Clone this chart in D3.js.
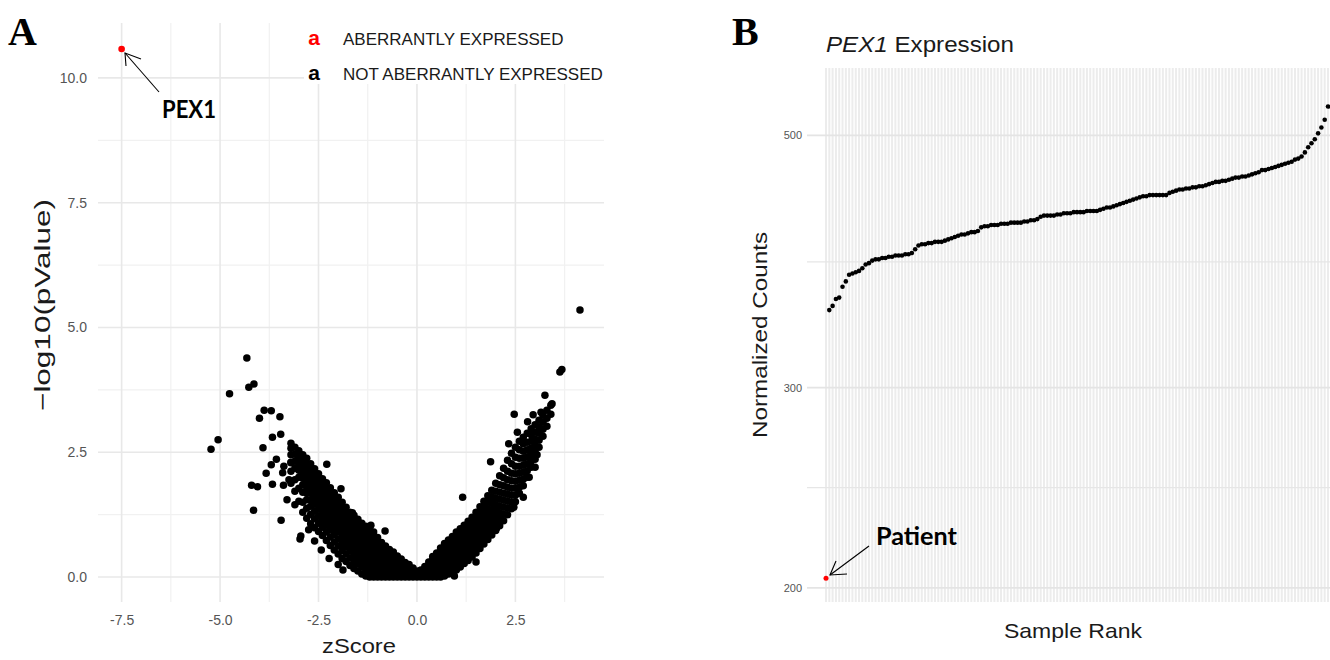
<!DOCTYPE html>
<head>
    <meta charset="utf-8">
    <title>PEX1 aberrant expression</title>
    <style>
        body { margin: 0; background: #fff; }
        svg { display: block; font-family: "Liberation Sans", Arial, sans-serif; }
        .tick text { fill: #555; }
        .note { font-family: Lato, "Open Sans", sans-serif; font-weight: bold; }
    </style>
    <script src="https://d3js.org/d3.v7.min.js"></script>
</head>
<body>
<script>
    // ---- panel A : zScore vs -log10(pValue) ----
    var zTicks = [-7.5, -5.0, -2.5, 0.0, 2.5];
    var zMinor = [-6.25, -3.75, -1.25, 1.25, 3.75];
    var pTicks = [0, 2.5, 5, 7.5, 10];
    var pMinor = [1.25, 3.75, 6.25, 8.75];
    var legendLabels = ["ABERRANTLY EXPRESSED", "NOT ABERRANTLY EXPRESSED"];
    var pex1 = [-7.5, 10.58];

    // dense band, read column by column: [zScore, [-log10 p ...]]
    var leftArm = [
        [-3.2, [1.88, 2.12, 2.3, 2.45, 2.58, 2.68]],
        [-3.1, [1.72, 1.95, 2.18, 2.32, 2.46, 2.6]],
        [-3.0, [1.52, 1.78, 2.0, 2.14, 2.27, 2.4, 2.53]],
        [-2.9, [1.3, 1.5, 1.7, 1.85, 1.98, 2.1, 2.22, 2.35, 2.45]],
        [-2.8, [1.18, 1.38, 1.55, 1.68, 1.8, 1.93, 2.05, 2.17, 2.28, 2.38]],
        [-2.7, [1.07, 1.26, 1.42, 1.55, 1.68, 1.8, 1.92, 2.03, 2.15, 2.27]],
        [-2.6, [0.99, 1.17, 1.32, 1.46, 1.58, 1.7, 1.82, 1.94, 2.06, 2.17]],
        [-2.5, [0.91, 1.08, 1.22, 1.36, 1.48, 1.6, 1.72, 1.84, 1.96, 2.07]],
        [-2.4, [0.83, 1.0, 1.13, 1.26, 1.39, 1.51, 1.63, 1.75, 1.87, 1.97]],
        [-2.3, [0.73, 0.9, 1.04, 1.17, 1.3, 1.42, 1.54, 1.66, 1.78, 1.89]],
        [-2.2, [0.63, 0.8, 0.95, 1.08, 1.2, 1.33, 1.45, 1.57, 1.68, 1.79]],
        [-2.1, [0.54, 0.7, 0.85, 0.98, 1.11, 1.23, 1.35, 1.47, 1.59, 1.69]],
        [-2.0, [0.46, 0.62, 0.76, 0.9, 1.02, 1.14, 1.26, 1.38, 1.5, 1.6]],
        [-1.9, [0.37, 0.53, 0.67, 0.8, 0.93, 1.05, 1.17, 1.29, 1.4, 1.5]],
        [-1.8, [0.31, 0.46, 0.6, 0.73, 0.85, 0.97, 1.08, 1.19, 1.3, 1.4]],
        [-1.7, [0.23, 0.38, 0.52, 0.65, 0.77, 0.89, 1.0, 1.1, 1.2, 1.3]],
        [-1.6, [0.17, 0.31, 0.45, 0.58, 0.7, 0.81, 0.92, 1.03, 1.14, 1.24]],
        [-1.5, [0.12, 0.26, 0.39, 0.51, 0.63, 0.74, 0.85, 0.96, 1.06, 1.16]],
        [-1.4, [0.06, 0.2, 0.33, 0.45, 0.56, 0.67, 0.78, 0.88, 0.98, 1.08]],
        [-1.3, [0.02, 0.15, 0.27, 0.39, 0.5, 0.61, 0.71, 0.81, 0.92, 1.02]],
        [-1.2, [0, 0.12, 0.24, 0.35, 0.46, 0.56, 0.66, 0.76, 0.86, 0.96]],
        [-1.1, [0, 0.11, 0.22, 0.33, 0.43, 0.53, 0.62, 0.72, 0.81, 0.9]],
        [-1.0, [0, 0.09, 0.21, 0.3, 0.41, 0.5, 0.61, 0.7, 0.79]],
        [-0.9, [0, 0.11, 0.2, 0.31, 0.4, 0.5, 0.6, 0.69]],
        [-0.8, [0, 0.1, 0.19, 0.29, 0.38, 0.47, 0.55, 0.62]],
        [-0.7, [0, 0.09, 0.18, 0.27, 0.36, 0.45, 0.55]],
        [-0.6, [0, 0.08, 0.17, 0.26, 0.34, 0.42, 0.5]],
        [-0.5, [0, 0.08, 0.16, 0.25, 0.33, 0.42]],
        [-0.4, [0, 0.07, 0.15, 0.22, 0.29, 0.36]],
        [-0.3, [0, 0.07, 0.14, 0.21, 0.29]],
        [-0.2, [0, 0.06, 0.13, 0.19, 0.25]],
        [-0.1, [0, 0.06, 0.12, 0.18]],
        [0.0, [0, 0.06, 0.12]]
    ];
    var rightArm = [
        [0.1, [0, 0.07, 0.14]],
        [0.2, [0, 0.07, 0.14, 0.21]],
        [0.3, [0, 0.08, 0.16, 0.23, 0.3]],
        [0.4, [0, 0.09, 0.18, 0.27, 0.35, 0.41]],
        [0.5, [0, 0.09, 0.19, 0.28, 0.38, 0.48]],
        [0.6, [0, 0.1, 0.2, 0.3, 0.4, 0.49, 0.58]],
        [0.7, [0.02, 0.12, 0.22, 0.32, 0.42, 0.52, 0.61, 0.67]],
        [0.8, [0.06, 0.16, 0.26, 0.36, 0.46, 0.56, 0.65, 0.74]],
        [0.9, [0.1, 0.2, 0.31, 0.41, 0.51, 0.61, 0.71, 0.81]],
        [1.0, [0.14, 0.24, 0.35, 0.45, 0.56, 0.66, 0.78, 0.9]],
        [1.1, [0.2, 0.31, 0.42, 0.53, 0.64, 0.75, 0.86, 0.97]],
        [1.2, [0.27, 0.38, 0.49, 0.6, 0.71, 0.82, 0.93, 1.04]],
        [1.3, [0.33, 0.45, 0.56, 0.67, 0.78, 0.9, 1.01, 1.12]],
        [1.4, [0.4, 0.52, 0.63, 0.75, 0.86, 0.98, 1.09, 1.2]],
        [1.5, [0.48, 0.6, 0.72, 0.84, 0.96, 1.07, 1.18, 1.3]],
        [1.6, [0.57, 0.69, 0.81, 0.93, 1.05, 1.17, 1.29, 1.41]],
        [1.7, [0.66, 0.78, 0.9, 1.02, 1.15, 1.27, 1.4, 1.52]],
        [1.8, [0.75, 0.87, 1.0, 1.12, 1.25, 1.37, 1.5, 1.63]],
        [1.9, [0.84, 0.96, 1.09, 1.22, 1.35, 1.48, 1.61, 1.74]],
        [2.0, [0.93, 1.06, 1.19, 1.32, 1.45, 1.58, 1.72, 1.88]],
        [2.1, [1.03, 1.16, 1.29, 1.42, 1.56, 1.7, 1.85, 2.03]],
        [2.2, [1.13, 1.26, 1.4, 1.54, 1.68, 1.83, 1.99, 2.18]],
        [2.3, [1.25, 1.38, 1.52, 1.66, 1.8, 1.95, 2.12, 2.34]],
        [2.4, [1.37, 1.5, 1.64, 1.78, 1.93, 2.08, 2.27, 2.48]],
        [2.5, [1.51, 1.64, 1.78, 1.92, 2.07, 2.22, 2.4, 2.6]],
        [2.6, [1.68, 1.8, 1.94, 2.08, 2.22, 2.38, 2.55, 2.72]],
        [2.7, [1.83, 1.96, 2.1, 2.24, 2.38, 2.52, 2.67, 2.8]],
        [2.8, [2.0, 2.13, 2.27, 2.41, 2.55, 2.7, 2.88]],
        [2.9, [2.2, 2.32, 2.45, 2.58, 2.72, 2.85, 2.97]],
        [3.0, [2.36, 2.5, 2.63, 2.76, 2.9, 3.05]],
        [3.1, [2.6, 2.74, 2.88, 3.0, 3.14]],
        [3.2, [2.82, 2.96, 3.1, 3.24]],
        [3.3, [3.02, 3.18, 3.34]],
        [3.4, [3.26, 3.44]]
    ];
    // scattered genes off the band: [zScore, -log10 p]
    var outliers = [
        [-5.23, 2.56], [-5.05, 2.75], [-4.76, 3.67], [-4.32, 4.39], [-4.27, 3.80], [-4.14, 3.87],
        [-4.00, 3.18], [-3.88, 3.34], [-3.70, 3.33], [-3.48, 3.21], [-3.67, 2.80], [-3.46, 2.86],
        [-3.91, 2.59], [-3.57, 2.36], [-3.70, 2.25], [-3.38, 2.22], [-3.20, 2.29], [-3.83, 2.08],
        [-3.41, 2.09], [-4.20, 1.84], [-4.05, 1.81], [-3.67, 1.86], [-3.39, 1.84], [-4.15, 1.34],
        [-3.45, 1.14], [-2.29, 2.26], [-1.93, 1.77], [-2.97, 0.76], [-2.95, 0.82], [-2.43, 0.54],
        [-2.23, 0.37], [-1.17, 1.04], [-0.81, 0.92], [-1.64, 1.29], [-1.88, 0.14], [-3.30, 1.55],
        [-3.25, 1.95], [-3.10, 1.45], [-2.75, 0.95], [-2.60, 0.72], [-2.00, 0.25],
        [4.14, 5.35], [3.63, 4.11], [3.68, 4.16], [3.25, 3.64], [3.43, 3.47], [2.47, 3.26],
        [2.81, 3.11], [2.33, 2.67], [1.16, 1.60], [2.46, 1.40], [2.02, 0.98], [1.87, 2.31],
        [3.00, 2.20], [2.70, 1.60], [2.85, 2.00], [3.05, 2.45], [2.95, 3.25], [3.15, 3.30],
        [2.55, 2.90], [1.50, 0.30], [0.95, 0.02]
    ];

    // ---- panel B : PEX1 normalized counts by sample rank ----
    var countTicks = [200, 300, 500];
    var countMinor = [245, 387];
    var patientCount = 204;
    var otherCounts = [
        351, 354, 359, 360, 368, 372, 377, 378, 379,
        380, 382, 385, 386, 388, 389, 389, 390, 390, 391,
        391, 392, 392, 392, 393, 393, 394, 397, 400, 401,
        401, 402, 402, 403, 403, 403, 404, 405, 406, 407,
        408, 409, 409, 410, 411, 411, 412, 415, 416, 416,
        417, 417, 417, 418, 418, 418, 419, 419, 419, 419,
        420, 420, 421, 421, 422, 424, 425, 425, 425, 425,
        426, 426, 427, 427, 427, 428, 428, 428, 428, 429,
        429, 429, 429, 430, 431, 432, 432, 433, 434, 435,
        436, 437, 438, 439, 440, 441, 442, 442, 443, 443,
        443, 443, 443, 443, 445, 446, 447, 448, 448, 449,
        449, 450, 450, 451, 451, 452, 453, 454, 455, 455,
        456, 456, 457, 458, 459, 459, 460, 460, 461, 462,
        463, 464, 466, 466, 467, 468, 469, 470, 471, 472,
        473, 474, 476, 477, 479, 483, 488, 492, 496, 502,
        508, 516, 530
    ];

    var svg = d3.select("body").append("svg")
        .attr("width", 1330)
        .attr("height", 660);

    function stretched(sel, len) {
        return sel.attr("textLength", len).attr("lengthAdjust", "spacingAndGlyphs");
    }

    // ================= panel A =================
    var ax = { left: 98, right: 604, top: 23, bottom: 602 };
    var x = d3.scaleLinear().domain([-8.1, 4.75]).range([ax.left, ax.right]);
    var y = d3.scaleLinear().domain([-0.5, 11.1]).range([ax.bottom, ax.top]);
    var fmt = d3.formatLocale({ decimal: ".", thousands: ",", grouping: [3], currency: ["", ""], minus: "-" }).format(".1f");

    var gridA = svg.append("g").attr("id", "gridA");
    gridA.selectAll(".vminor").data(zMinor).enter().append("line")
        .attr("x1", d => x(d)).attr("x2", d => x(d))
        .attr("y1", ax.top).attr("y2", ax.bottom)
        .attr("stroke", "#f1f1f1").attr("stroke-width", 1.2);
    gridA.selectAll(".hminor").data(pMinor).enter().append("line")
        .attr("x1", ax.left).attr("x2", ax.right)
        .attr("y1", d => y(d)).attr("y2", d => y(d))
        .attr("stroke", "#f1f1f1").attr("stroke-width", 1.2);
    gridA.selectAll(".vmajor").data(zTicks).enter().append("line")
        .attr("x1", d => x(d)).attr("x2", d => x(d))
        .attr("y1", ax.top).attr("y2", ax.bottom)
        .attr("stroke", "#e8e8e8").attr("stroke-width", 1.6);
    gridA.selectAll(".hmajor").data(pTicks).enter().append("line")
        .attr("x1", ax.left).attr("x2", ax.right)
        .attr("y1", d => y(d)).attr("y2", d => y(d))
        .attr("stroke", "#e8e8e8").attr("stroke-width", 1.6);

    svg.append("g")
        .attr("transform", "translate(0," + ax.bottom + ")")
        .style("font-size", "14px")
        .call(d3.axisBottom(x).tickValues(zTicks).tickFormat(fmt).tickSize(0).tickPadding(13))
        .call(g => g.select(".domain").remove());
    svg.append("g")
        .attr("transform", "translate(" + ax.left + ",0)")
        .style("font-size", "14px")
        .call(d3.axisLeft(y).tickValues(pTicks).tickFormat(fmt).tickSize(0).tickPadding(11))
        .call(g => g.select(".domain").remove());

    stretched(svg.append("text")
        .attr("x", 359).attr("y", 653)
        .attr("text-anchor", "middle")
        .style("font-size", "21px").attr("fill", "#1a1a1a")
        .text("zScore"), 74);

    stretched(svg.append("text")
        .attr("transform", "translate(50,305) rotate(-90)")
        .attr("text-anchor", "middle")
        .style("font-size", "22px").attr("fill", "#1a1a1a")
        .text("\u2212log10(pValue)"), 212);

    // legend sits on a white box over the panel
    svg.append("rect")
        .attr("x", 304).attr("y", 18).attr("width", 320).attr("height", 66)
        .attr("fill", "#fff");
    var legend = svg.append("g").attr("id", "legend");
    legend.selectAll(".key").data(legendLabels).enter().append("text")
        .attr("x", 314).attr("y", (d, i) => 45 + i * 35)
        .attr("text-anchor", "middle")
        .style("font-size", "21px").style("font-weight", "bold")
        .attr("fill", (d, i) => i === 0 ? "#ff0000" : "#000")
        .text("a");
    legend.selectAll(".lab").data(legendLabels).enter().append("text")
        .attr("x", 343).attr("y", (d, i) => 45 + i * 35)
        .style("font-size", "17px").attr("fill", "#1a1a1a")
        .text(d => d);

    var genes = [];
    leftArm.concat(rightArm).forEach(function (col) {
        col[1].forEach(function (p) { genes.push([col[0], p]); });
    });
    genes = genes.concat(outliers);

    svg.append("g").attr("id", "genes")
        .selectAll("circle").data(genes).enter().append("circle")
        .attr("cx", d => x(d[0])).attr("cy", d => y(d[1]))
        .attr("r", 3.75).attr("fill", "#000");

    svg.append("circle")
        .attr("cx", x(pex1[0])).attr("cy", y(pex1[1]))
        .attr("r", 3.3).attr("fill", "#ff0000");

    // PEX1 call-out
    var arrowA = svg.append("g").attr("stroke", "#000").attr("stroke-width", 1.1).attr("fill", "none");
    arrowA.append("line").attr("x1", 159).attr("y1", 92).attr("x2", 125).attr("y2", 53);
    arrowA.append("polyline").attr("points", "126,66 125,53 141,59");
    stretched(svg.append("text").attr("class", "note")
        .attr("x", 162).attr("y", 118)
        .style("font-size", "24px")
        .text("PEX1"), 54);

    svg.append("text")
        .attr("x", 8).attr("y", 45)
        .style("font-family", "'Liberation Serif', 'DejaVu Serif', serif")
        .style("font-weight", "bold").style("font-size", "40px")
        .text("A");

    // ================= panel B =================
    var bx = { left: 807, right: 1340, top: 68, bottom: 602 };
    var ranks = d3.range(1, otherCounts.length + 2);
    var xr = d3.scaleLinear().domain([1, ranks.length]).range([826, 1328]);
    var yc = d3.scaleLog().domain([194.4, 573]).range([bx.bottom, bx.top]);
    var gridRanks = d3.range(1, ranks.length + 5);

    var gridB = svg.append("g").attr("id", "gridB");
    gridB.selectAll(".vr").data(gridRanks).enter().append("line")
        .attr("x1", d => xr(d)).attr("x2", d => xr(d))
        .attr("y1", bx.top).attr("y2", bx.bottom)
        .attr("stroke", "#ececec").attr("stroke-width", 2);
    gridB.selectAll(".hm").data(countMinor).enter().append("line")
        .attr("x1", bx.left).attr("x2", bx.right)
        .attr("y1", d => yc(d)).attr("y2", d => yc(d))
        .attr("stroke", "#e6e6e6").attr("stroke-width", 1.2);
    gridB.selectAll(".hM").data(countTicks).enter().append("line")
        .attr("x1", bx.left).attr("x2", bx.right)
        .attr("y1", d => yc(d)).attr("y2", d => yc(d))
        .attr("stroke", "#e4e4e4").attr("stroke-width", 1.8);

    svg.append("g")
        .attr("transform", "translate(" + bx.left + ",0)")
        .style("font-size", "11px")
        .call(d3.axisLeft(yc).tickValues(countTicks).tickFormat(d3.format("d")).tickSize(0).tickPadding(5))
        .call(g => g.select(".domain").remove())
        .call(g => g.selectAll(".tick text").attr("fill", "#6a7888"));

    svg.append("g").attr("id", "samples")
        .selectAll("circle").data(otherCounts).enter().append("circle")
        .attr("cx", (d, i) => xr(i + 2)).attr("cy", d => yc(d))
        .attr("r", 2.3).attr("fill", "#000");
    svg.append("circle")
        .attr("cx", xr(1)).attr("cy", yc(patientCount))
        .attr("r", 2.5).attr("fill", "#ff0000");

    var title = svg.append("text")
        .attr("x", 826).attr("y", 52)
        .style("font-size", "22px").attr("fill", "#1a1a1a");
    title.append("tspan").style("font-style", "italic").text("PEX1");
    title.append("tspan").text(" Expression");
    stretched(title, 188);

    stretched(svg.append("text")
        .attr("x", 1073).attr("y", 638)
        .attr("text-anchor", "middle")
        .style("font-size", "21px").attr("fill", "#1a1a1a")
        .text("Sample Rank"), 138);

    stretched(svg.append("text")
        .attr("transform", "translate(767,335) rotate(-90)")
        .attr("text-anchor", "middle")
        .style("font-size", "21px").attr("fill", "#1a1a1a")
        .text("Normalized  Counts"), 206);

    // patient call-out
    var arrowB = svg.append("g").attr("stroke", "#000").attr("stroke-width", 1.1).attr("fill", "none");
    arrowB.append("line").attr("x1", 869).attr("y1", 546).attr("x2", 830).attr("y2", 575);
    arrowB.append("polyline").attr("points", "836,561 830,575 847,574");
    stretched(svg.append("text").attr("class", "note")
        .attr("x", 876).attr("y", 545)
        .style("font-size", "24px")
        .text("Patient"), 81);

    svg.append("text")
        .attr("x", 732).attr("y", 45)
        .style("font-family", "'Liberation Serif', 'DejaVu Serif', serif")
        .style("font-weight", "bold").style("font-size", "40px")
        .text("B");
</script>
</body>
